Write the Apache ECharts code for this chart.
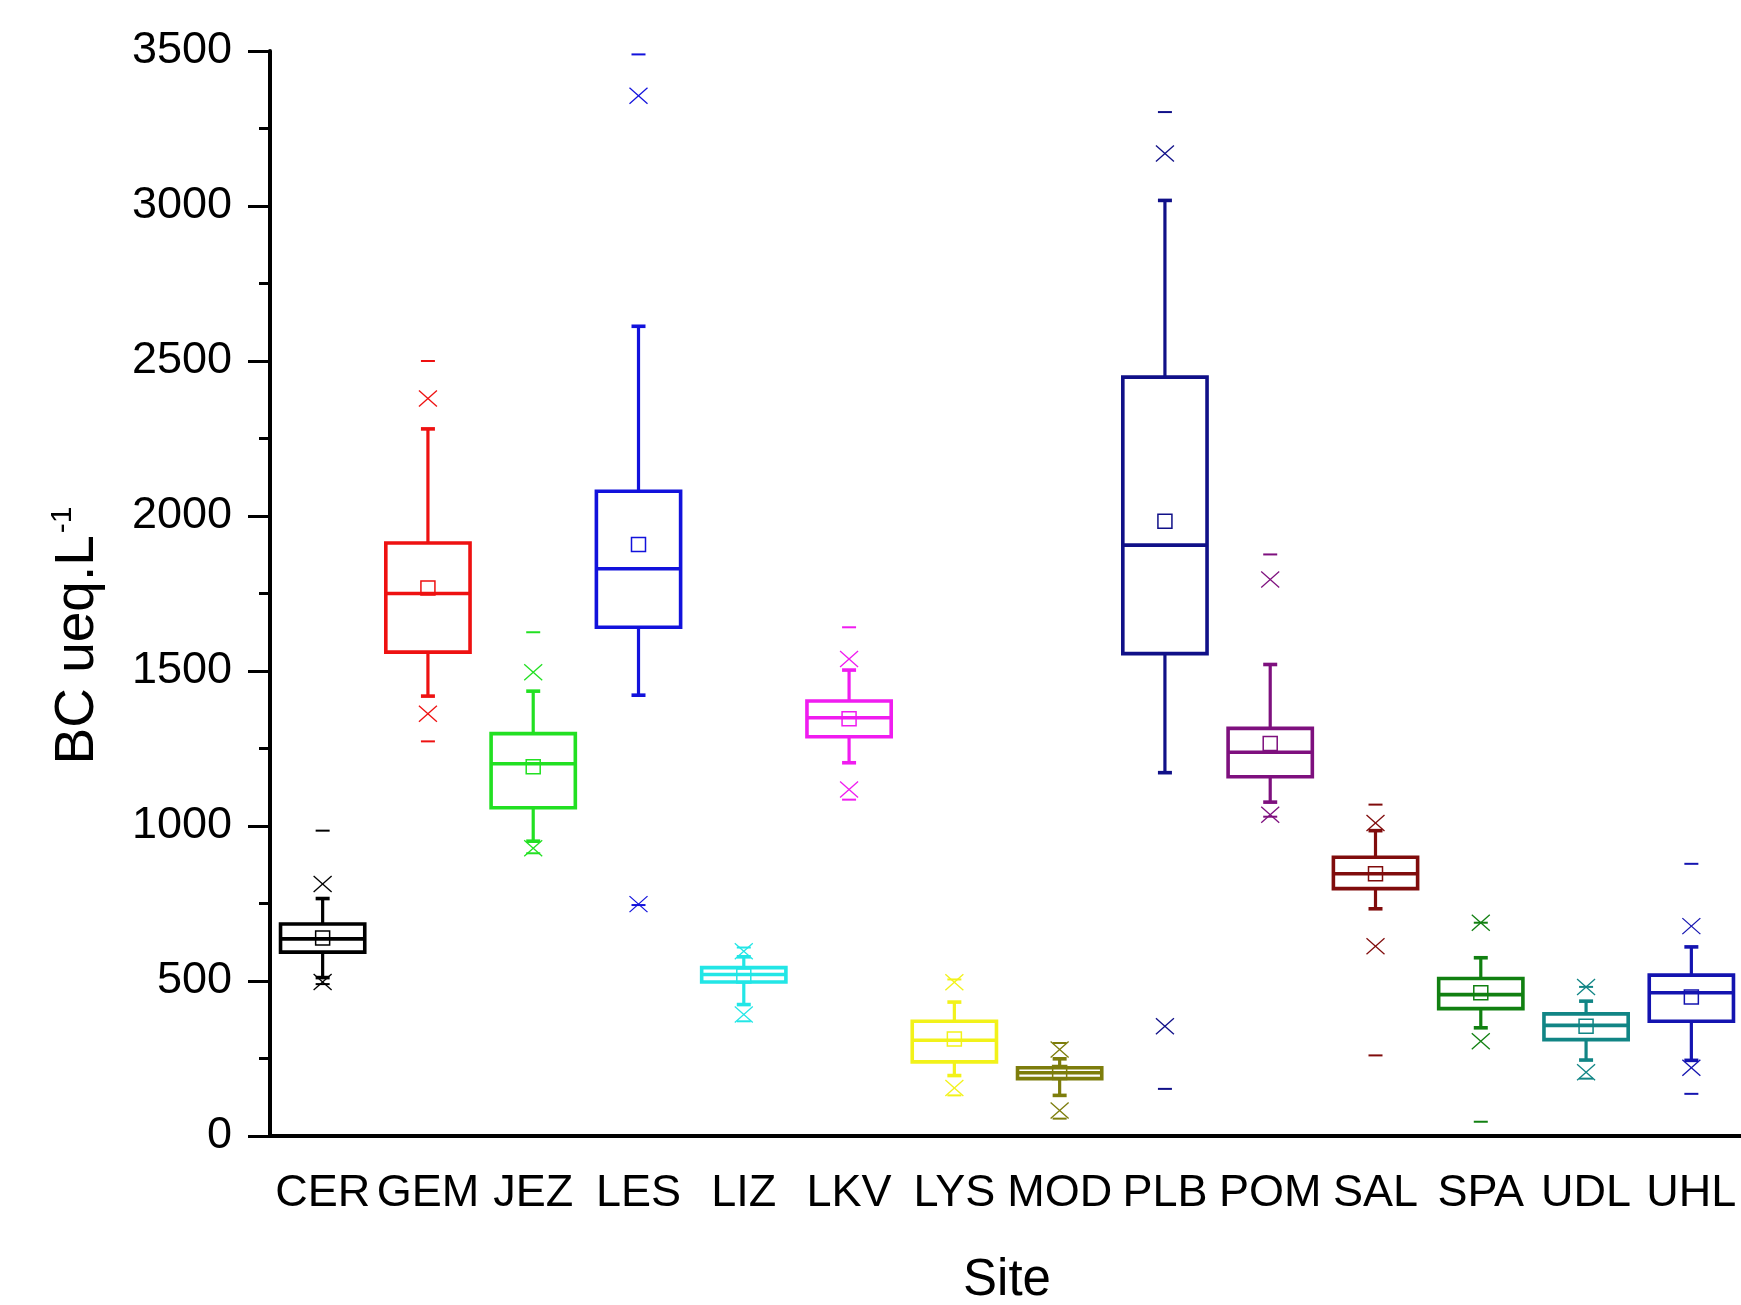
<!DOCTYPE html>
<html>
<head>
<meta charset="utf-8">
<script src="https://cdn.jsdelivr.net/npm/echarts@6/dist/echarts.min.js"></script>
<style>
  html, body { margin: 0; padding: 0; background: #fff; }
  #chart { width: 1741px; height: 1305px; }
</style>
</head>
<body>
<div id="chart"></div>
<script>
// sites on the x axis
const sites = ['CER', 'GEM', 'JEZ', 'LES', 'LIZ', 'LKV', 'LYS', 'MOD', 'PLB', 'POM', 'SAL', 'SPA', 'UDL', 'UHL'];

// box statistics (BC ueq.L-1)
const minVals   = [490, 1273, 912, 745, 370, 1085, 131, 56, 152, 1030, 260, 46, 185, 136];
const p1Vals    = [497, 1362, 928, 748, 392, 1118, 155, 82, 354, 1036, 612, 306, 206, 220];
const whiskLow  = [511, 1419, 951, 1422, 424, 1204, 195, 131, 1172, 1077, 733, 349, 245, 244];
const q1Vals    = [593, 1561, 1059, 1641, 497, 1288, 239, 185, 1556, 1159, 798, 411, 311, 370];
const medVals   = [636, 1750, 1201, 1830, 521, 1349, 309, 204, 1906, 1238, 846, 456, 357, 462];
const q3Vals    = [684, 1913, 1298, 2080, 543, 1403, 370, 220, 2448, 1315, 899, 508, 394, 519];
const whiskHigh = [766, 2281, 1435, 2612, 578, 1503, 432, 249, 3018, 1521, 985, 575, 435, 610];
const p99Vals   = [813, 2379, 1496, 3356, 596, 1539, 496, 279, 3169, 1795, 1010, 688, 481, 677];
const maxVals   = [985, 2500, 1625, 3489, 608, 1641, 505, 300, 3303, 1876, 1069, 688, 481, 878];
const meanVals  = [639, 1768, 1191, 1908, 516, 1346, 313, 205, 1983, 1266, 846, 462, 354, 448];

const yTicks = [0, 500, 1000, 1500, 2000, 2500, 3000, 3500];

const colors = ['#000000', '#ee1111', '#22e022', '#1212dc', '#22e6e6', '#f01cf0', '#f2f21a',
  '#7d7d0c', '#101088', '#7e107e', '#800c0c', '#118011', '#118585', '#1414b0'];

const font = 'Liberation Sans, Arial, sans-serif';

// one row per site: [index, min, p1, wlo, q1, med, q3, whi, p99, max, mean]
const rows = sites.map((s, i) => [i, minVals[i], p1Vals[i], whiskLow[i], q1Vals[i], medVals[i],
  q3Vals[i], whiskHigh[i], p99Vals[i], maxVals[i], meanVals[i]]);

function renderBox(params, api) {
  const i = api.value(0);
  const cx = api.coord([i, 0])[0];
  const y = v => api.coord([i, v])[1];
  const half = api.size([1, 0])[0] * 0.4;
  const c = colors[i];
  const line = (x1, y1, x2, y2, w) => ({
    type: 'line',
    shape: { x1: x1, y1: y1, x2: x2, y2: y2 },
    style: { stroke: c, lineWidth: w }
  });
  const cap = 7;
  const yq1 = y(api.value(4)), yq3 = y(api.value(6));
  const kids = [
    { type: 'rect', shape: { x: cx - half, y: yq3, width: half * 2, height: yq1 - yq3 },
      style: { fill: 'none', stroke: c, lineWidth: 3.6 } },
    line(cx - half, y(api.value(5)), cx + half, y(api.value(5)), 3.6),
    line(cx, yq3, cx, y(api.value(7)), 3.2),
    line(cx - cap, y(api.value(7)), cx + cap, y(api.value(7)), 3.6),
    line(cx, yq1, cx, y(api.value(3)), 3.2),
    line(cx - cap, y(api.value(3)), cx + cap, y(api.value(3)), 3.6),
    // mean square
    { type: 'rect', shape: { x: cx - 7, y: y(api.value(10)) - 7, width: 14, height: 14 },
      style: { fill: 'none', stroke: c, lineWidth: 1.5 } }
  ];
  // 1% and 99% crosses
  [2, 8].forEach(k => {
    const yy = y(api.value(k));
    kids.push(line(cx - 9, yy - 8, cx + 9, yy + 8, 1.3));
    kids.push(line(cx - 9, yy + 8, cx + 9, yy - 8, 1.3));
  });
  // min and max dashes
  [1, 9].forEach(k => {
    const yy = y(api.value(k));
    kids.push(line(cx - 7, yy, cx + 7, yy, 2));
  });
  return { type: 'group', children: kids };
}

const chart = echarts.init(document.getElementById('chart'), null, { renderer: 'canvas' });
chart.setOption({
  animation: false,
  backgroundColor: '#ffffff',
  grid: { left: 270, top: 51, width: 1474, height: 1085, containLabel: false, outerBoundsMode: 'none' },
  xAxis: {
    type: 'category',
    data: sites,
    boundaryGap: true,
    name: 'Site',
    nameLocation: 'middle',
    nameGap: 119,
    nameTextStyle: { fontFamily: font, fontSize: 51, color: '#000' },
    axisLine: { lineStyle: { color: '#000', width: 4 } },
    axisTick: { alignWithLabel: true, interval: 0, length: 22, lineStyle: { color: '#000', width: 3 } },
    axisLabel: { interval: 0, fontFamily: font, fontSize: 45, color: '#000', margin: 35 },
    splitLine: { show: false }
  },
  yAxis: {
    type: 'value',
    min: yTicks[0],
    max: yTicks[yTicks.length - 1],
    interval: 500,
    name: '{a|BC ueq.L}{b|-1}',
    nameLocation: 'middle',
    nameRotate: 90,
    nameGap: 162,
    nameTextStyle: {
      padding: [0, 84, 0, 0],
      rich: {
        a: { fontFamily: font, fontSize: 55, color: '#000', lineHeight: 60 },
        b: { fontFamily: font, fontSize: 30, color: '#000', verticalAlign: 'top', lineHeight: 60, padding: [0, 0, 22, 2] }
      }
    },
    axisLine: { show: true, lineStyle: { color: '#000', width: 4 } },
    axisTick: { show: true, length: 22, lineStyle: { color: '#000', width: 3 } },
    minorTick: { show: true, splitNumber: 2, length: 11, lineStyle: { color: '#000', width: 3 } },
    axisLabel: { fontFamily: font, fontSize: 45, color: '#000', margin: 38, formatter: v => String(v) },
    splitLine: { show: false }
  },
  series: [{
    type: 'custom',
    renderItem: renderBox,
    encode: { x: 0, y: [1, 2, 3, 4, 5, 6, 7, 8, 9, 10] },
    data: rows,
    clip: false
  }]
});
</script>
</body>
</html>
